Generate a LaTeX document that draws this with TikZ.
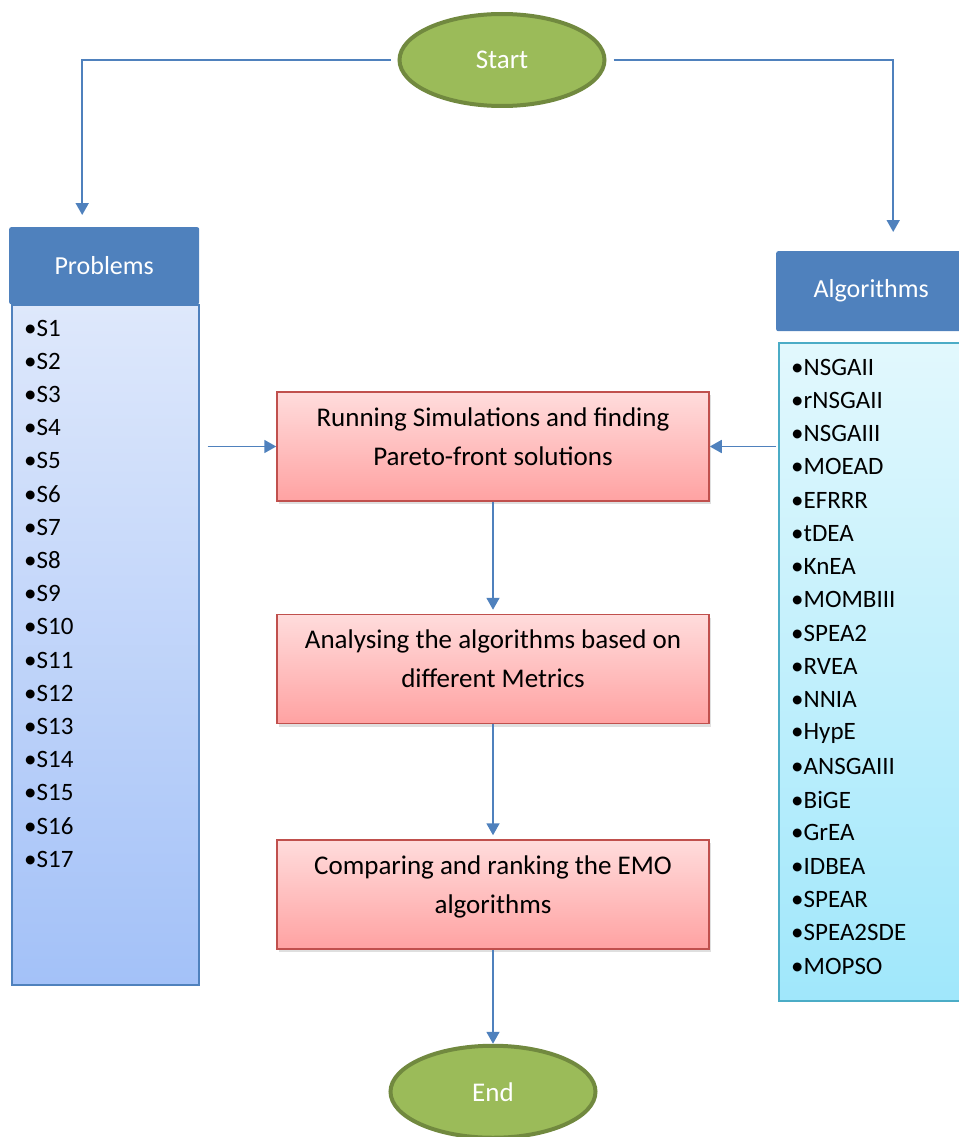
\documentclass[tikz,border=0pt]{standalone}
\usepackage{fontspec}
\setmainfont{Carlito}
\usetikzlibrary{positioning}
\usetikzlibrary{shapes.geometric}
\usetikzlibrary{arrows.meta}
\usetikzlibrary{shadows}

\definecolor{hdblue}{HTML}{4F81BD}
\definecolor{termfill}{HTML}{9BBB59}
\definecolor{termedge}{HTML}{71893F}
\definecolor{redtop}{HTML}{FFDCDC}
\definecolor{redbot}{HTML}{FFA2A2}
\definecolor{rededge}{HTML}{C0504D}
\definecolor{probtop}{HTML}{DEE8FB}
\definecolor{probbot}{HTML}{A3C1F8}
\definecolor{algtop}{HTML}{E2F8FD}
\definecolor{algbot}{HTML}{A0E7FB}
\definecolor{algedge}{HTML}{4BACC6}
\newcommand{\dgfont}{\fontsize{25}{39}\selectfont}
\newcommand{\stepfont}{\fontsize{27}{39}\selectfont}

\begin{document}
\begin{tikzpicture}
[
x=1pt, y=-1pt,
node distance=112pt and 5mm,
>={Triangle[width=13pt,length=12pt]},
flow/.style={->, draw=hdblue, line width=1.8pt},
term/.style={ellipse, draw=termedge, line width=4pt, fill=termfill, minimum width=205pt, minimum height=92pt, text=white, font=\stepfont},
head/.style={rounded corners=2pt, fill=hdblue, text=white, minimum width=190pt, anchor=north west, font=\fontsize{26}{39}\selectfont},
list/.style={draw=#1, line width=1.5pt, minimum width=187pt, anchor=north west, inner sep=0pt},
item/.style={anchor=west, inner sep=0pt, font=\dgfont},
stepbox/.style={draw=rededge, line width=1.5pt, top color=redtop, bottom color=redbot, minimum width=432pt, minimum height=109pt, text depth=20pt, align=center, font=\stepfont, drop shadow={opacity=0.25, shadow xshift=2pt, shadow yshift=-3pt}},
]
\useasboundingbox (0,0) rectangle (958,1137);

\node (start) [term] at (502,60) {Start};

% problems column
\node (problist) [list=hdblue, top color=probtop, bottom color=probbot, minimum height=680pt] at (11,304) {};
\node (probhead) [head, minimum height=77pt] at (9,227) {Problems};
\foreach \s [count=\i] in {S1,S2,S3,S4,S5,S6,S7,S8,S9,S10,S11,S12,S13,S14,S15,S16,S17}
{
\node (p\i) [item] at (24,{328+33.2*(\i-1)}) {•\s};
}

% algorithms column
\node (alglist) [list=algedge, top color=algtop, bottom color=algbot, minimum height=658pt] at (778,342) {};
\node (alghead) [head, minimum height=80pt] at (776,251) {Algorithms};
\foreach \s [count=\i] in {NSGAII,rNSGAII,NSGAIII,MOEAD,EFRRR,tDEA,KnEA,MOMBIII,SPEA2,RVEA,NNIA,HypE,ANSGAIII,BiGE,GrEA,IDBEA,SPEAR,SPEA2SDE,MOPSO}
{
\node (a\i) [item] at (791,{367+33.28*(\i-1)}) {•\s};
}

% main steps
\node (run) [stepbox] at (493,446.5) {Running Simulations and finding\\Pareto-front solutions};
\node (analyse) [stepbox, below=of run] {Analysing the algorithms based on\\different Metrics};
\node (rank) [stepbox, below=115pt of analyse] {Comparing and ranking the EMO\\algorithms};
\node (end) [term, below=94pt of rank] {End};

\draw [flow, shorten <=7pt, shorten >=12pt] (start.west) -| ([xshift=-22pt]probhead.north);
\draw [flow, shorten <=7pt, shorten >=19pt] (start.east) -| ([xshift=22pt]alghead.north);
\draw [flow, shorten <=8pt] (problist.east |- run.west) -- (run.west);
\draw [flow, shorten <=2pt] (alglist.west |- run.east) -- (run.east);
\draw [flow, shorten >=4pt] (run) -- (analyse);
\draw [flow, shorten >=4pt] (analyse) -- (rank);
\draw [flow] (rank) -- (end);
\end{tikzpicture}
\end{document}
